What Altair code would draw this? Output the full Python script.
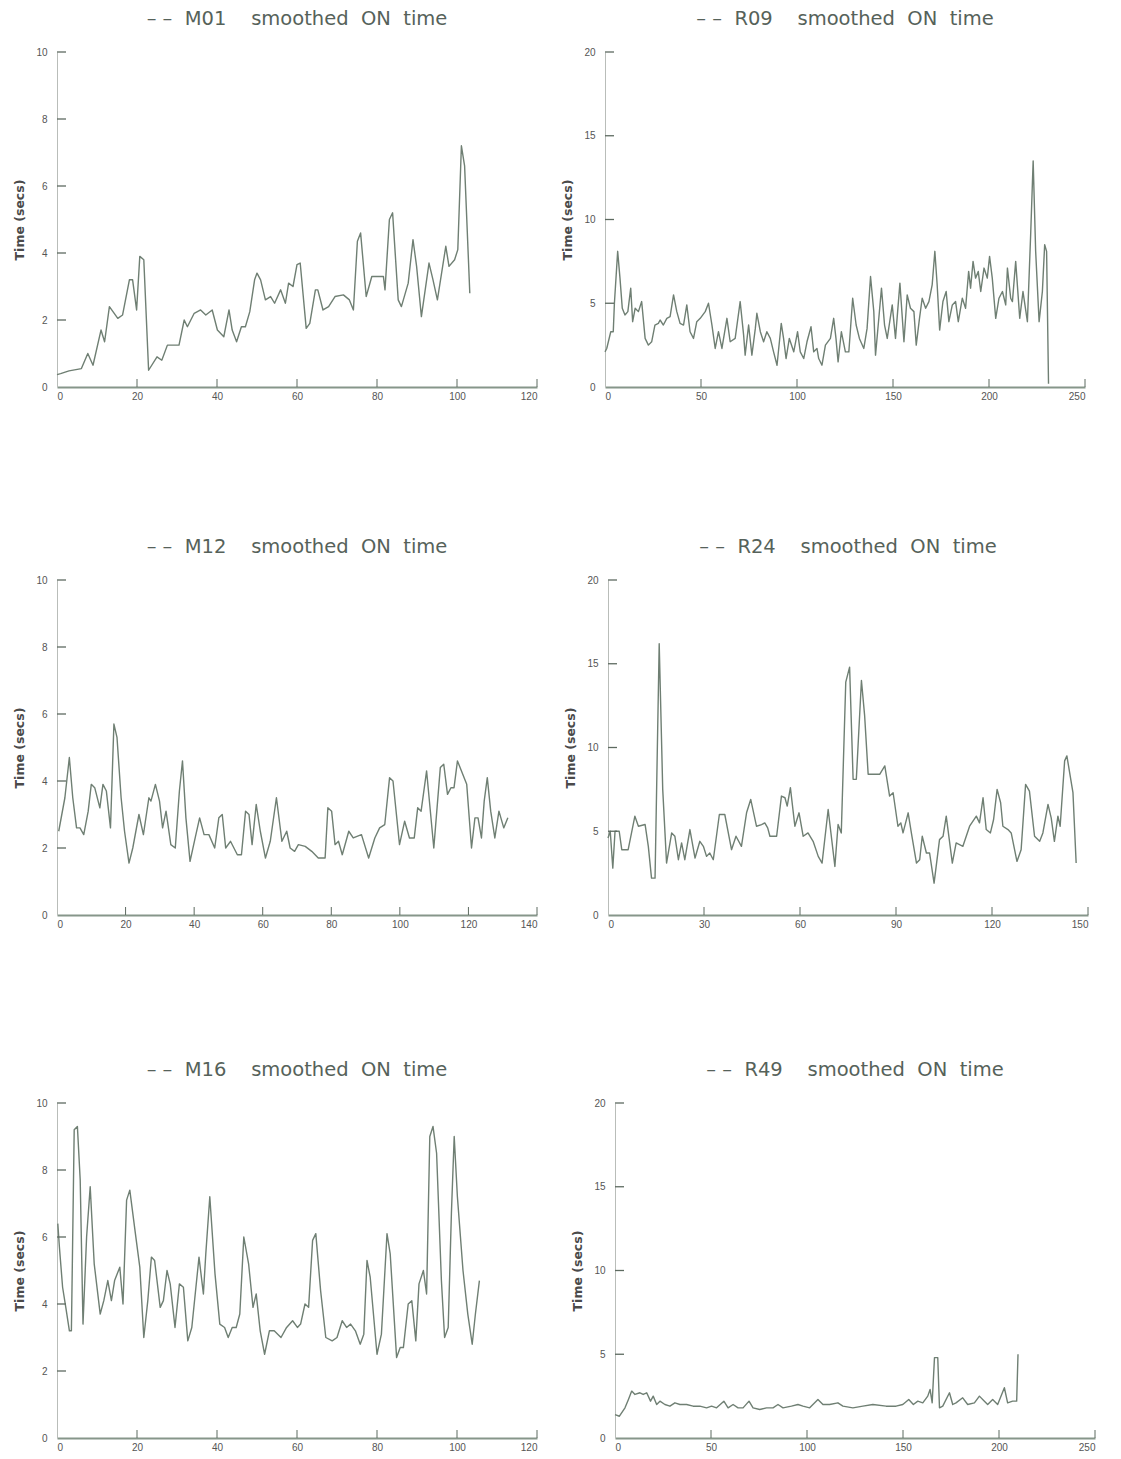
import altair as alt
import pandas as pd

# ---------------- data ----------------
M01_X = [0, 0.9, 3, 6.1, 7.7, 9.0, 11.0, 11.9, 13.1, 15.2, 16.4, 18.1, 18.9, 19.9, 20.7, 21.7, 22.9, 25, 26.2, 27.6,
         30.5, 31.8, 32.6, 34.3, 35.9, 37.2, 38.8, 40.1, 41.7, 43, 43.8, 44.9, 46.1, 47.1, 48.2, 49.4, 50, 50.9, 52.1,
         53.4, 54.4, 55.9, 57.1, 57.9, 59, 60, 60.8, 62.3, 63.2, 64.6, 65.2, 66.5, 67.9, 69.5, 71.6, 73.1, 74.1, 75.1,
         75.9, 77.3, 78.7, 81.6, 82, 83.1, 83.9, 85.3, 86.1, 87.8, 89, 89.9, 91.1, 93, 94, 95.1, 97.2, 98, 99.4, 100.2,
         101.1, 101.9, 103.2]
M01_Y = [0.37, 0.4, 0.48, 0.55, 1.0, 0.65, 1.7, 1.35, 2.4, 2.05, 2.15, 3.2, 3.2, 2.3, 3.9, 3.8, 0.5, 0.9, 0.8, 1.25,
         1.25, 2.0, 1.8, 2.2, 2.3, 2.15, 2.3, 1.7, 1.5, 2.3, 1.7, 1.35, 1.8, 1.8, 2.25, 3.2, 3.4, 3.2, 2.6,
         2.7, 2.5, 2.9, 2.5, 3.1, 3.0, 3.65, 3.7, 1.75, 1.9, 2.9, 2.9, 2.3, 2.4, 2.7, 2.75, 2.6, 2.3, 4.35,
         4.6, 2.7, 3.3, 3.3, 2.9, 5.0, 5.2, 2.6, 2.4, 3.1, 4.4, 3.6, 2.1, 3.7, 3.2, 2.6, 4.2, 3.6, 3.8, 4.1,
         7.2, 6.6, 2.8]

R09_X = [0, 0.9, 3, 4.3, 4.9, 6.6, 7.8, 9, 10.4, 11.9, 13.4, 14.4, 15.7, 17.4, 19.1, 20.9, 22.6, 24.3, 26, 27.8,
         28.7, 30.4, 32.2, 33.9, 35.7, 37.4, 39.1, 40.9, 42.6, 44.3, 46.1, 47.8, 49.6, 52.2, 53.9, 55.7, 57.4, 59.1,
         60.9, 63.5, 65.2, 67.8, 70.4, 72.2, 73, 74.8, 76.5, 78.3, 79.1, 80.9, 82.6, 84.3, 86.1, 87.8, 89.6, 91.8,
         93, 94.3, 96, 98.3, 100.3, 101.7, 103.5, 105.2, 107.3, 108.7, 110.4, 111.3, 113, 114.8, 117.4, 119.1, 120.3,
         121.4, 123.1, 125.2, 127, 129, 130.8, 132.5, 134.8, 136.5, 138.3, 140, 140.9, 142.3, 144, 145.6, 147,
         149.6, 151.3, 153.6, 155.7, 157.4, 159.1, 160.9, 162.1, 163.8, 165.2, 167, 168.7, 170.4, 171.8, 173,
         174.3, 176, 177.7, 179.1, 180.9, 182.6, 184, 186.1, 187.8, 189.4, 190.4, 191.7, 193, 194.4, 195.7, 197.4,
         199.1, 200.3, 201.7, 203.5, 205.2, 207, 208.7, 209.6, 211.3, 212.2, 213.9, 216, 217.7, 220, 221.7, 223,
         224.3, 226.1, 227.8, 229, 230, 231]
R09_Y = [2.1, 2.3, 3.3, 3.3, 5.0, 8.1, 6.5, 4.7, 4.3, 4.5, 5.9, 3.9, 4.7, 4.5, 5.1, 2.9, 2.5, 2.7, 3.7, 3.8,
         4.0, 3.7, 4.1, 4.2, 5.5, 4.5, 3.8, 3.7, 4.9, 3.3, 2.9, 3.9, 4.1, 4.5, 5.0, 3.7, 2.3, 3.3,
         2.3, 4.1, 2.7, 2.9, 5.1, 3.1, 1.9, 3.7, 1.9, 3.5, 4.4, 3.3, 2.7, 3.3, 2.9, 2.1, 1.3, 3.8,
         2.9, 1.7, 2.9, 2.1, 3.3, 2.1, 1.7, 2.7, 3.6, 2.1, 2.3, 1.7, 1.3, 2.5, 2.9, 4.1, 2.9,
         1.5, 3.3, 2.1, 2.1, 5.3, 3.7, 2.9, 2.3, 3.5, 6.6, 4.5, 1.9, 3.7, 5.9, 3.7, 2.9,
         4.9, 2.9, 6.2, 2.7, 5.5, 4.7, 4.5, 2.5, 4.1, 5.3, 4.7, 5.1, 6.1, 8.1, 6.1,
         3.4, 5.1, 5.7, 3.9, 4.9, 5.1, 3.9, 5.3, 4.7, 6.9, 5.9, 7.5, 6.5, 6.9, 5.7, 7.1,
         6.5, 7.8, 6.5, 4.1, 5.3, 5.7, 4.9, 7.1, 5.3, 5.1, 7.5, 4.1, 5.7, 3.9, 9.1, 13.5,
         8.1, 3.9, 5.7, 8.5, 8.1, 0.2]

M12_X = [0.5, 2.3, 3.6, 4.6, 5.7, 6.7, 7.8, 9.1, 10, 11, 12.5, 13.4, 14.4, 15.6, 16.6, 17.5, 18.7, 19.7, 21, 22.1,
         23.9, 25.2, 26.8, 27.4, 28.7, 29.9, 30.8, 31.8, 33.2, 34.5, 35.7, 36.6, 37.6, 38.8, 40.3, 41.6, 42.9, 44.3,
         46, 47.2, 48.2, 49.2, 50.6, 52.6, 53.8, 55, 56, 56.9, 58.1, 59.3, 60.8, 62.2, 64, 65.6, 67, 68, 69.3, 70.4,
         72.4, 74.3, 76.2, 78.2, 79, 80.1, 81.1, 82.1, 83.2, 85.1, 86.4, 88.8, 90.9, 92.7, 94.1, 95.6, 97, 98, 99.9,
         101.4, 102.8, 104.2, 105.2, 106.2, 107.8, 109.9, 111.8, 112.8, 113.9, 114.9, 115.8, 116.8, 119.5, 120.9,
         121.9, 122.8, 123.8, 124.6, 125.5, 126.5, 127.7, 128.9, 130.3, 131.5]
M12_Y = [2.5, 3.5, 4.7, 3.5, 2.6, 2.6, 2.4, 3.1, 3.9, 3.8, 3.2, 3.9, 3.7, 2.6, 5.7, 5.3, 3.5, 2.5, 1.55, 2.0,
         3.0, 2.4, 3.5, 3.4, 3.9, 3.4, 2.6, 3.1, 2.1, 2.0, 3.7, 4.6, 2.9, 1.6, 2.3, 2.9, 2.4, 2.4,
         2.0, 2.9, 3.0, 2.0, 2.2, 1.8, 1.8, 3.1, 3.0, 2.1, 3.3, 2.5, 1.7, 2.2, 3.5, 2.2, 2.5, 2.0, 1.9, 2.1,
         2.05, 1.9, 1.7, 1.7, 3.2, 3.1, 2.1, 2.2, 1.8, 2.5, 2.3, 2.4, 1.7, 2.3, 2.6, 2.7, 4.1, 4.0, 2.1,
         2.8, 2.3, 2.3, 3.2, 3.1, 4.3, 2.0, 4.4, 4.5, 3.6, 3.8, 3.8, 4.6, 3.9, 2.0,
         2.9, 2.9, 2.3, 3.4, 4.1, 3.1, 2.3, 3.1, 2.6, 2.9]

R24_X = [0, 0.7, 1.5, 2.2, 3.5, 4.3, 6.3, 8.4, 9.5, 11.6, 12.6, 13.6, 14.7, 16, 17.1, 18.3, 19.9, 20.9, 22, 23,
         24, 25.6, 27.2, 28.7, 29.8, 30.8, 31.8, 32.9, 34.8, 36.5, 38.6, 40, 41.7, 43.3, 44.6, 46.4, 48, 49, 49.9,
         50.6, 52.7, 54.2, 55.3, 56, 57, 58.4, 59.7, 61, 62.5, 64.1, 65.7, 66.9, 68.8, 70.9, 71.9, 72.9, 74.3, 75.5,
         76.6, 77.6, 79.2, 80.2, 81.3, 84.9, 86.5, 88, 89.1, 90.6, 91.5, 92.2, 93.8, 94.8, 96.4, 97.4, 98.2, 99.5,
         100.5, 101.9, 103.6, 104.7, 105.7, 107.6, 108.8, 110.9, 113, 115.1, 116.1, 117.2, 118.2, 119.5, 120.5,
         121.6, 122.7, 123.4, 125, 126, 127.8, 129.1, 130.5, 131.7, 133.3, 134.9, 135.9, 137.5, 138.5, 139.5,
         140.6, 141.3, 142.7, 143.4, 145.3, 146.3]
R24_Y = [4.6, 5.0, 2.8, 5.0, 5.0, 3.9, 3.9, 5.9, 5.3, 5.4, 4.1, 2.2, 2.2, 16.2, 7.5, 3.1, 4.9, 4.7, 3.3, 4.3,
         3.3, 5.1, 3.4, 4.4, 4.1, 3.5, 3.7, 3.3, 6.0, 6.0, 3.9, 4.7, 4.1, 6.1, 6.9, 5.3, 5.4, 5.5, 5.2,
         4.7, 4.7, 7.1, 7.0, 6.5, 7.6, 5.3, 6.1, 4.7, 4.9, 4.4, 3.5, 3.1, 6.3, 2.9, 5.4, 4.9, 13.9, 14.8,
         8.1, 8.1, 14.0, 11.9, 8.4, 8.4, 8.9, 7.1, 7.3, 5.3, 5.5, 4.9, 6.1, 4.9, 3.1, 3.3, 4.7, 3.7,
         3.7, 1.9, 4.5, 4.7, 5.9, 3.1, 4.3, 4.1, 5.3, 5.9, 5.5, 7.0, 5.1, 4.9, 5.7,
         7.5, 6.7, 5.3, 5.1, 4.9, 3.2, 3.9, 7.8, 7.4, 4.7, 4.4, 4.9, 6.6, 5.8, 4.4,
         5.9, 5.3, 9.2, 9.5, 7.3, 3.1]

M16_X = [0.2, 0.6, 1.4, 2.2, 3.1, 3.6, 4.3, 5.1, 5.8, 6.5, 7.4, 8.3, 9.3, 10.8, 11.7, 12.7, 13.6, 14.4, 15.7, 16.5,
         17.4, 18.2, 19.6, 20.7, 21.7, 22.7, 23.6, 24.4, 25.8, 26.6, 27.5, 28.3, 29.5, 30.6, 31.6, 32.7, 33.7, 35.5,
         36.6, 37.2, 38.2, 39.5, 40.7, 41.9, 42.8, 43.8, 44.8, 45.7, 46.7, 47.9, 49, 49.8, 50.8, 51.9, 53.1, 54.3,
         56, 57.4, 58.9, 60.1, 60.9, 62, 62.9, 63.9, 64.7, 65.9, 67.2, 68.8, 70, 71.3, 72.4, 73.4, 74.6, 75.8, 76.7,
         77.5, 78.3, 80, 81.1, 82.5, 83.3, 84.9, 85.8, 86.6, 87.8, 88.7, 89.7, 90.5, 91.6, 92.4, 93.2, 94, 94.9,
         96.1, 96.9, 97.8, 98.6, 99.3, 100.1, 101.5, 102.7, 103.8, 104.6, 105.6]
M16_Y = [6.4, 5.7, 4.5, 3.9, 3.2, 3.2, 9.2, 9.3, 7.7, 3.4, 6.0, 7.5, 5.2, 3.7, 4.1, 4.7, 4.1, 4.7, 5.1, 4.0,
         7.1, 7.4, 6.1, 5.1, 3.0, 4.1, 5.4, 5.3, 3.9, 4.1, 5.0, 4.6, 3.3, 4.6, 4.5, 2.9, 3.3, 5.4,
         4.3, 5.5, 7.2, 4.9, 3.4, 3.3, 3.0, 3.3, 3.3, 3.7, 6.0, 5.2, 3.9, 4.3, 3.2, 2.5, 3.2, 3.2,
         3.0, 3.3, 3.5, 3.3, 3.4, 4.0, 3.9, 5.9, 6.1, 4.4, 3.0, 2.9, 3.0, 3.5, 3.3, 3.4, 3.2, 2.8, 3.1,
         5.3, 4.8, 2.5, 3.1, 6.1, 5.5, 2.4, 2.7, 2.7, 4.0, 4.1, 2.9, 4.6, 5.0, 4.3, 9.0, 9.3, 8.5,
         4.7, 3.0, 3.3, 6.7, 9.0, 7.2, 5.0, 3.7, 2.8, 3.7, 4.7]

R49_X = [0, 2.3, 5.2, 7, 8.7, 10.4, 13, 14.7, 16.5, 18.5, 19.9, 21.7, 23.4, 26, 28.6, 31.2, 33.8, 37.3, 40.7, 44.2,
         47.7, 50.3, 52.9, 56.7, 58.9, 61.5, 64.1, 66.7, 69.8, 71.9, 75.4, 78.9, 82.3, 84.9, 87.5, 91.9, 95.3, 97.9,
         101.4, 105.7, 108.3, 111.8, 116.1, 118.7, 123.9, 129.1, 134.3, 141.2, 146.4, 149.9, 153, 155.4, 157.7,
         160.3, 162.9, 164.1, 165.2, 166.4, 168.1, 169, 170.7, 174.2, 175.9, 177.6, 181.1, 183.7, 187.2, 189.8,
         192.4, 194.1, 196.7, 199.3, 202.8, 204.5, 207.1, 209.2, 209.9]
R49_Y = [1.4, 1.3, 1.8, 2.3, 2.8, 2.6, 2.7, 2.6, 2.7, 2.2, 2.5, 2.0, 2.2, 2.0, 1.9, 2.1, 2.0, 2.0, 1.9, 1.9,
         1.8, 1.9, 1.8, 2.2, 1.8, 2.0, 1.8, 1.8, 2.2, 1.8, 1.7, 1.8, 1.8, 2.0, 1.8, 1.9, 2.0, 1.9,
         1.8, 2.3, 2.0, 2.0, 2.1, 1.9, 1.8, 1.9, 2.0, 1.9, 1.9, 2.0, 2.3, 2.0, 2.2,
         2.1, 2.5, 2.9, 2.1, 4.8, 4.8, 1.8, 1.9, 2.7, 2.0, 2.1, 2.4, 2.0, 2.1, 2.5,
         2.2, 2.0, 2.3, 2.0, 3.0, 2.1, 2.2, 2.2, 5.0]

SUBJECTS = ["M01", "R09", "M12", "R24", "M16", "R49"]
X_MAX = [120, 250, 140, 150, 120, 250]
X_STEP = [20, 50, 20, 30, 20, 50]
Y_MAX = [10, 20, 10, 20, 10, 20]
Y_STEP = [2, 5, 2, 5, 2, 5]
SERIES = [(M01_X, M01_Y), (R09_X, R09_Y), (M12_X, M12_Y), (R24_X, R24_Y), (M16_X, M16_Y), (R49_X, R49_Y)]

# ---------------- styling ----------------
W, H = 480, 335
LINE_COLOR = "#6f7f73"
TEXT_COLOR = "#56625a"
TICK_COLOR = "#5d6a60"
NB = "\u00a0"


def panel(i):
    name = SUBJECTS[i]
    xs, ys = SERIES[i]
    xmax, xstep, ymax, ystep = X_MAX[i], X_STEP[i], Y_MAX[i], Y_STEP[i]
    df = pd.DataFrame({"x": xs, "y": ys})
    xvals = list(range(0, xmax + 1, xstep))
    yvals = list(range(0, ymax + 1, ystep))
    xsc = alt.Scale(domain=[0, xmax], nice=False, zero=True)
    ysc = alt.Scale(domain=[0, ymax], nice=False, zero=True)
    xaxis = alt.Axis(values=xvals, title=None, grid=False, tickSize=0, labelPadding=4,
                     domainWidth=2.2, domainColor="#86968a", labelFontSize=10,
                     labelColor="#555555", labelFont="Liberation Sans")
    yaxis = alt.Axis(values=yvals, title="Time (secs)", grid=False, tickSize=0, labelPadding=10,
                     domainWidth=1, domainColor="#b9bdb9", labelFontSize=10,
                     labelColor="#555555", labelFont="Liberation Sans",
                     titleFont="DejaVu Sans", titleFontSize=12.5, titleFontWeight="bold",
                     titleColor="#4a4a4a", titlePadding=9)

    line = alt.Chart(df).mark_line(color=LINE_COLOR, strokeWidth=1.4, strokeJoin="round").encode(
        x=alt.X("x:Q", scale=xsc, axis=xaxis, title=None),
        y=alt.Y("y:Q", scale=ysc, axis=yaxis, title="Time (secs)"),
    )

    xt = pd.DataFrame({"v": xvals[1:]})
    yt = pd.DataFrame({"v": yvals[1:]})
    xticks = alt.Chart(xt).mark_rule(color=TICK_COLOR, strokeWidth=1).encode(
        x=alt.X("v:Q", scale=xsc, axis=xaxis, title=None),
        y=alt.value(H - 8), y2=alt.value(H))
    yticks = alt.Chart(yt).mark_rule(color=TICK_COLOR, strokeWidth=1.3).encode(
        y=alt.Y("v:Q", scale=ysc, axis=yaxis, title="Time (secs)"),
        x=alt.value(0), x2=alt.value(9))

    title_text = f"\u2013{NB}\u2013{NB*2}{name}{NB*4}smoothed{NB*2}ON{NB*2}time"
    return alt.layer(line, xticks, yticks).properties(
        width=W, height=H,
        title=alt.TitleParams(title_text, font="DejaVu Sans", fontSize=19.5,
                              fontWeight="normal", color=TEXT_COLOR, offset=18, anchor="middle"),
    )


row1 = alt.hconcat(panel(0), panel(1), spacing=23)
row2 = alt.hconcat(panel(2), panel(3), spacing=26)
row3 = alt.hconcat(panel(4), panel(5), spacing=33)

chart = alt.vconcat(row1, alt.vconcat(row2, row3, spacing=130), spacing=135).properties(
    padding={"left": 13, "top": 8, "right": 10, "bottom": 2},
    background="white",
).configure_view(stroke=None)

chart.save("out.html", embed_options={"renderer": "svg", "actions": False})
